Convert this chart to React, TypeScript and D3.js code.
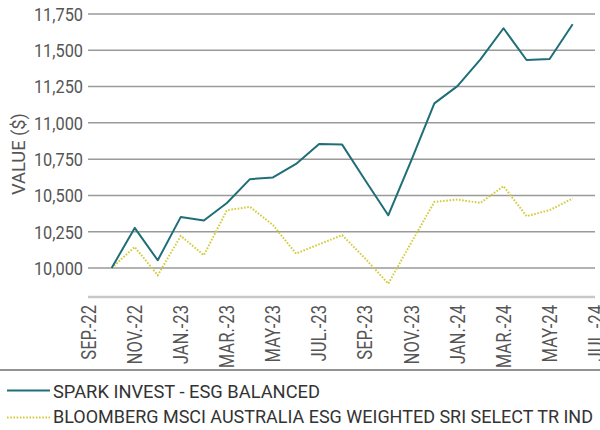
import * as React from 'react';
import * as d3 from 'd3';

const months = [
  'SEP.-22', 'OCT.-22', 'NOV.-22', 'DEC.-22', 'JAN.-23', 'FEB.-23', 'MAR.-23', 'APR.-23',
  'MAY-23', 'JUN.-23', 'JUL.-23', 'AUG.-23', 'SEP.-23', 'OCT.-23', 'NOV.-23', 'DEC.-23',
  'JAN.-24', 'FEB.-24', 'MAR.-24', 'APR.-24', 'MAY-24', 'JUN.-24', 'JUL.-24',
];
// series start in Oct-22 (month index 1)
const sparkValues = [
  10000, 10276, 10053, 10352, 10327, 10448, 10612, 10624, 10717, 10855, 10850,
  10605, 10363, 10742, 11134, 11253, 11438, 11652, 11433, 11440, 11679,
];
const benchValues = [
  10000, 10145, 9950, 10221, 10088, 10398, 10421, 10295, 10099, 10163, 10226,
  10065, 9892, 10175, 10455, 10472, 10448, 10564, 10357, 10398, 10479,
];
const yTicks = [10000, 10250, 10500, 10750, 11000, 11250, 11500, 11750];
const seriesNames = [
  'SPARK INVEST - ESG BALANCED',
  'BLOOMBERG MSCI AUSTRALIA ESG WEIGHTED SRI SELECT TR IND',
];

const W = 600;
const H = 430;
const FONT = "Roboto, 'Liberation Sans', sans-serif";
const BLUE = '#1f6e78';
const YELLOW = '#d3cc3a';
const GREY_TEXT = '#555';

export default function App() {
  const x = d3.scaleLinear().domain([0, months.length - 1]).range([88.6, 595.7]);
  const y = d3.scaleLinear().domain([9800, 11750]).range([297, 14]);
  const line = d3.line<number>().x((d, i) => x(i + 1)).y((d) => y(d));
  const fmt = d3.format(',');

  return (
    <svg width={W} height={H} style={{ position: 'absolute', left: 0, top: 0 }} fontFamily={FONT}>
      <rect width={W} height={H} fill="#fff" />
      {/* grid + y labels (condensed by a horizontal squeeze) */}
      {yTicks.map((t) => (
        <g key={t}>
          <line x1={88} x2={595} y1={y(t)} y2={y(t)} stroke="#9a9a9a" strokeWidth={1.5} />
          <text
            transform={`translate(83,${y(t)}) scale(0.86,1)`}
            dy="0.36em"
            textAnchor="end"
            fontSize={19}
            fill={GREY_TEXT}
          >
            {fmt(t)}
          </text>
        </g>
      ))}
      <text
        transform="translate(18.5,154) rotate(-90)"
        textAnchor="middle"
        dy="0.36em"
        fontSize={18}
        fill={GREY_TEXT}
        textLength={82}
        lengthAdjust="spacingAndGlyphs"
      >
        VALUE ($)
      </text>
      {/* x axis */}
      <line x1={88} x2={595} y1={297} y2={297} stroke="#c8c8c8" strokeWidth={2.5} />
      {months.map((m, i) =>
        i % 2 === 0 ? (
          <text
            key={m}
            transform={`translate(${x(i)},305) rotate(-90) scale(0.83,1)`}
            textAnchor="end"
            dy="0.36em"
            fontSize={20}
            fill={GREY_TEXT}
          >
            {m}
          </text>
        ) : null
      )}
      {/* series */}
      <path d={line(benchValues) || ''} fill="none" stroke={YELLOW} strokeWidth={2} strokeDasharray="1.6 1.6" />
      <path d={line(sparkValues) || ''} fill="none" stroke={BLUE} strokeWidth={2} strokeLinejoin="round" />
      {/* legend */}
      <line x1={0} x2={W} y1={370} y2={370} stroke="#6e6e6e" strokeWidth={1.5} />
      <line x1={7} x2={50} y1={390.5} y2={390.5} stroke={BLUE} strokeWidth={2} />
      <text x={53} y={391} dy="0.36em" fontSize={18.5} fill="#333" textLength={267} lengthAdjust="spacingAndGlyphs">
        {seriesNames[0]}
      </text>
      <line x1={7} x2={50} y1={417.5} y2={417.5} stroke={YELLOW} strokeWidth={2} strokeDasharray="1.6 1.6" />
      <text x={53} y={417} dy="0.36em" fontSize={18} fill="#333" textLength={540} lengthAdjust="spacingAndGlyphs">
        {seriesNames[1]}
      </text>
    </svg>
  );
}
